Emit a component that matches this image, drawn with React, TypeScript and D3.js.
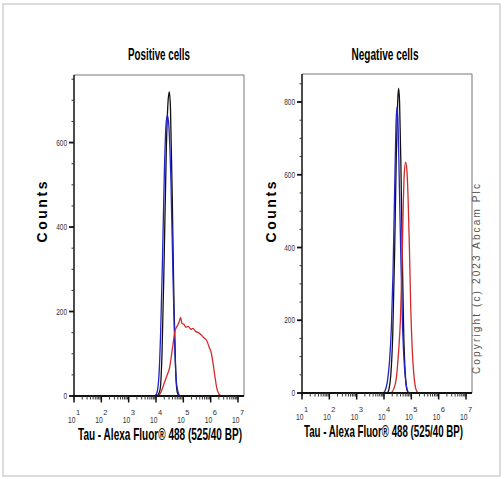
import React from 'react';
import * as d3 from 'd3';

// [log10 intensity, count]
const posBlack: [number, number][] = [
  [4.05, 0], [4.15, 15], [4.22, 100], [4.3, 330], [4.38, 590], [4.45, 705], [4.49, 720],
  [4.53, 680], [4.6, 450], [4.66, 210], [4.72, 60], [4.78, 8], [4.85, 0],
];
const posBlue: [number, number][] = [
  [3.95, 0], [4.02, 5], [4.1, 40], [4.17, 150], [4.24, 330], [4.31, 540], [4.37, 645], [4.42, 665],
  [4.47, 640], [4.55, 500], [4.62, 290], [4.69, 110], [4.76, 25], [4.86, 0],
];
const posRed: [number, number][] = [
  [4.1, 0], [4.2, 12], [4.3, 30], [4.4, 48], [4.5, 68], [4.6, 112], [4.7, 155], [4.78, 166],
  [4.85, 176], [4.9, 186], [4.95, 172], [5.02, 170], [5.1, 163], [5.18, 165], [5.27, 158],
  [5.35, 160], [5.45, 153], [5.55, 150], [5.65, 145], [5.75, 138], [5.85, 132], [5.95, 115],
  [6.03, 100], [6.1, 72], [6.16, 45], [6.22, 20], [6.3, 5], [6.38, 0],
];
const negBlack: [number, number][] = [
  [4.12, 0], [4.18, 10], [4.25, 50], [4.32, 160], [4.39, 390], [4.45, 650], [4.5, 800], [4.535, 838],
  [4.57, 800], [4.62, 620], [4.67, 380], [4.72, 170], [4.78, 50], [4.84, 8], [4.9, 0],
];
const negBlue: [number, number][] = [
  [3.98, 0], [4.05, 8], [4.12, 30], [4.2, 85], [4.27, 180], [4.33, 330], [4.39, 560], [4.44, 740],
  [4.475, 786], [4.51, 750], [4.56, 580], [4.62, 360], [4.68, 180], [4.75, 70], [4.82, 20], [4.9, 0],
];
const negRed: [number, number][] = [
  [4.25, 0], [4.35, 10], [4.45, 40], [4.53, 110], [4.6, 200], [4.66, 350], [4.7, 500], [4.74, 600],
  [4.79, 635], [4.84, 610], [4.88, 540], [4.93, 400], [4.98, 230], [5.04, 110], [5.1, 45],
  [5.17, 10], [5.25, 0],
];

const xTickExps = [1, 2, 3, 4, 5, 6, 7];
const posYTicks = [0, 200, 400, 600];
const negYTicks = [0, 200, 400, 600, 800];
const xLabel = 'Tau - Alexa Fluor\u00ae 488  (525/40 BP)';
const narrow = '"Liberation Sans Narrow", "Liberation Sans", Arial, sans-serif';

type PanelProps = {
  title: string;
  left: number; right: number; top: number; bottom: number;
  yMax: number; yTicks: number[];
  black: [number, number][]; blue: [number, number][]; red: [number, number][];
  titleX: number; titleW: number; labelX: number; labelW: number; countsX: number;
};

function Panel(p: PanelProps) {
  const x = d3.scaleLog().domain([10, 10 ** 7.22]).range([p.left, p.right]);
  const y = d3.scaleLinear().domain([0, p.yMax]).range([p.bottom, p.top]);
  const line = d3.line<[number, number]>()
    .x((d) => x(10 ** d[0]))
    .y((d) => y(d[1]))
    .curve(d3.curveMonotoneX);
  const minorX = x.ticks().filter((v) => v <= 1e7);
  const minorY = d3.range(0, p.yMax, 50);

  return (
    <g>
      <text x={p.titleX} y={60} textAnchor="middle" fontFamily={narrow} fontWeight="bold"
        fontSize={16} textLength={p.titleW} lengthAdjust="spacingAndGlyphs">{p.title}</text>
      {/* frame */}
      <path d={`M${p.left},${p.top}H${p.right}V${p.bottom}`} fill="none" stroke="#777" strokeWidth={1} />
      {/* curves */}
      <path d={line(p.black) || ''} fill="none" stroke="#111" strokeWidth={1.3} />
      <path d={line(p.blue) || ''} fill="none" stroke="#2323c8" strokeWidth={1.3} />
      <path d={line(p.red) || ''} fill="none" stroke="#d22a2a" strokeWidth={1.3} />
      {/* axes */}
      <line x1={p.left} x2={p.left} y1={p.top} y2={p.bottom} stroke="#111" strokeWidth={1.5} />
      <line x1={p.left - 1} x2={p.right} y1={p.bottom} y2={p.bottom} stroke="#111" strokeWidth={2} />
      {minorY.map((v) => (
        <line key={'my' + v} x1={p.left - 2.5} x2={p.left} y1={y(v)} y2={y(v)} stroke="#333" strokeWidth={1} />
      ))}
      {p.yTicks.map((v) => (
        <g key={'y' + v}>
          <line x1={p.left - 5} x2={p.left} y1={y(v)} y2={y(v)} stroke="#111" strokeWidth={1.8} />
          <text x={p.left - 7} y={y(v) + 3} textAnchor="end" fontFamily={narrow} fontSize={8.5}
            fill="#333" textLength={String(v).length * 3.6} lengthAdjust="spacingAndGlyphs">{v}</text>
        </g>
      ))}
      {minorX.map((v, i) => (
        <line key={'mx' + i} x1={x(v)} x2={x(v)} y1={p.bottom} y2={p.bottom + 3.5} stroke="#333" strokeWidth={1} />
      ))}
      {xTickExps.map((e) => (
        <g key={'x' + e}>
          <line x1={x(10 ** e)} x2={x(10 ** e)} y1={p.bottom} y2={p.bottom + 6.5} stroke="#111" strokeWidth={1.5} />
          <text x={x(10 ** e) + 1.5} y={p.bottom + 27} textAnchor="end" fontFamily={narrow} fontSize={9}
            fill="#333" textLength={7.5} lengthAdjust="spacingAndGlyphs">10</text>
          <text x={x(10 ** e) + 2} y={p.bottom + 18.5} textAnchor="start" fontFamily={narrow} fontSize={7.5}
            fill="#333">{e}</text>
        </g>
      ))}
      <text x={p.labelX} y={p.bottom + 44} textAnchor="middle" fontFamily={narrow} fontWeight="bold"
        fontSize={16.5} textLength={p.labelW} lengthAdjust="spacingAndGlyphs">{xLabel}</text>
      <text transform={`translate(${p.countsX},212) rotate(-90)`} textAnchor="middle"
        fontFamily='"Liberation Sans", Arial, sans-serif' fontWeight="bold" fontSize={14}
        textLength={61} lengthAdjust="spacing">Counts</text>
    </g>
  );
}

export default function App() {
  return (
    <svg width={504} height={479} style={{ position: 'absolute', left: 0, top: 0, background: '#fff' }}>
      <rect x={3} y={4} width={497} height={472} fill="#fff" stroke="#dcdcdc" strokeWidth={2} />
      <Panel title="Positive cells" left={74} right={244} top={75} bottom={396} yMax={760}
        yTicks={posYTicks} black={posBlack} blue={posBlue} red={posRed}
        titleX={159} titleW={62} labelX={160} labelW={164} countsX={47} />
      <Panel title="Negative cells" left={302} right={472} top={74} bottom={393} yMax={877}
        yTicks={negYTicks} black={negBlack} blue={negBlue} red={negRed}
        titleX={385} titleW={67} labelX={383.5} labelW={159} countsX={276} />
      <text transform="translate(480,279) rotate(-90)" textAnchor="middle"
        fontFamily='"Liberation Sans", Arial, sans-serif' fontSize={10} fill="#555"
        textLength={190} lengthAdjust="spacing">Copyright (c) 2023 Abcam Plc</text>
    </svg>
  );
}
